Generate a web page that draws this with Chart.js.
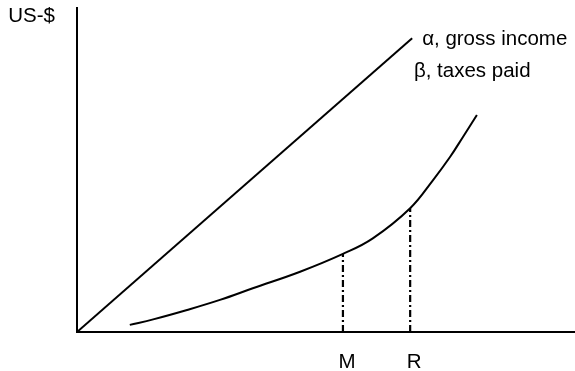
<!DOCTYPE html>
<html>
<head>
<meta charset="utf-8">
<script src="https://cdn.jsdelivr.net/npm/chart.js@4/dist/chart.umd.min.js"></script>
<style>
  html, body { margin: 0; padding: 0; background: #fff; }
  #wrap { width: 575px; height: 371px; }
</style>
</head>
<body>
<div id="wrap"><canvas id="chart"></canvas></div>
<script>
// gross income (straight line from origin)
const incomeX = [0, 67.3];
const incomeY = [0, 90.7];

// taxes paid (rising curve)
const taxX = [10.6, 15.3, 22.1, 28.7, 35.3, 44.8, 53.4, 59.4, 66.9, 71.5, 74.9, 77.5, 80.3];
const taxY = [2.2, 3.9, 6.8, 9.9, 13.5, 18.6, 24.1, 28.9, 38.2, 46.9, 54.0, 60.2, 67.0];

// marked income levels on the x axis
const markLabels = ["M", "R"];
const markX = [53.4, 66.9];
const markY = [24.1, 38.2];

const axisLabel = "US-$";
const incomeLabel = "α, gross income";
const taxLabel = "β, taxes paid";

const FONT = "Liberation Sans, Arial, sans-serif";

const toPoints = (xs, ys) => xs.map((x, i) => ({ x: x, y: ys[i] }));

const datasets = [
    {
        data: toPoints(incomeX, incomeY),
        borderColor: "#000",
        borderWidth: 2,
        pointRadius: 0
    },
    {
        data: toPoints(taxX, taxY),
        borderColor: "#000",
        borderWidth: 2,
        pointRadius: 0,
        tension: 0.4
    }
];

markX.forEach((x, i) => {
    datasets.push({
        data: [{ x: x, y: 0 }, { x: x, y: markY[i] }],
        borderColor: "#000",
        borderWidth: 2.2,
        borderDash: [7, 3, 2, 3],
        pointRadius: 0
    });
});

// text labels next to the curves and the axis
const textPlugin = {
    id: "textLabels",
    afterDraw(chart) {
        const ctx = chart.ctx;
        const xs = chart.scales.x;
        const ys = chart.scales.y;
        ctx.save();
        ctx.fillStyle = "#000";
        ctx.font = "20.5px " + FONT;
        ctx.textBaseline = "alphabetic";

        ctx.textAlign = "right";
        ctx.fillText(axisLabel, chart.chartArea.left - 22, chart.chartArea.top + 14);

        ctx.textAlign = "left";
        const ix = xs.getPixelForValue(incomeX[incomeX.length - 1]);
        const iy = ys.getPixelForValue(incomeY[incomeY.length - 1]);
        ctx.fillText(incomeLabel, ix + 10, iy + 7);

        const tx = xs.getPixelForValue(taxX[taxX.length - 1]);
        const ty = ys.getPixelForValue(taxY[taxY.length - 1]);
        ctx.fillText(taxLabel, tx - 63, ty - 38);
        ctx.restore();
    }
};

new Chart(document.getElementById("chart"), {
    type: "line",
    data: { datasets: datasets },
    options: {
        responsive: true,
        maintainAspectRatio: false,
        animation: false,
        layout: { padding: { top: 8, right: 0, left: 0, bottom: 0 } },
        plugins: {
            legend: { display: false },
            tooltip: { enabled: false }
        },
        scales: {
            x: {
                type: "linear",
                min: 0,
                max: 100,
                grid: { display: false, drawTicks: false },
                border: { display: true, color: "#000", width: 2 },
                afterBuildTicks: (s) => { s.ticks = markX.map((v) => ({ value: v })); },
                afterFit: (s) => { s.height = 39; },
                ticks: {
                    padding: 18,
                    labelOffset: 4,
                    color: "#000",
                    font: { family: FONT, size: 20.5 },
                    maxRotation: 0,
                    autoSkip: false,
                    callback: (v, i) => markLabels[i]
                }
            },
            y: {
                min: 0,
                max: 100,
                grid: { display: false, drawTicks: false },
                border: { display: true, color: "#000", width: 2 },
                ticks: { display: false },
                afterFit: (s) => { s.width = 77; }
            }
        }
    },
    plugins: [textPlugin]
});
</script>
</body>
</html>
